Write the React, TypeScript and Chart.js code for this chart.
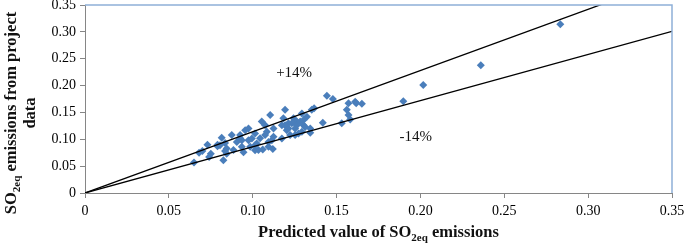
import React, { useEffect, useRef } from "react";
import { Chart, registerables } from "chart.js";

Chart.register(...registerables);

// Predicted value of SO2eq emissions (x)
const predicted: number[] = [
  0.065, 0.068, 0.07, 0.073, 0.075, 0.074, 0.079, 0.0805, 0.0815, 0.079,
  0.0835, 0.0825, 0.0845, 0.0875, 0.0885, 0.0905, 0.0925, 0.0935, 0.0945, 0.0925,
  0.0955, 0.0975, 0.0985, 0.1014, 0.1024, 0.1034, 0.1044, 0.1054, 0.1074, 0.1084,
  0.1094, 0.1104, 0.1114, 0.1124, 0.1174, 0.1183, 0.1193, 0.1203, 0.1213, 0.1223,
  0.1243, 0.1253, 0.1263, 0.1273, 0.1293, 0.1303, 0.1323, 0.1343, 0.1352, 0.1442,
  0.1478, 0.1571, 0.1611, 0.1651, 0.1561, 0.1571, 0.1581, 0.1531, 0.1418, 0.1366,
  0.1303, 0.1343, 0.1313, 0.1293, 0.1898, 0.2017, 0.236, 0.2834, 0.0845, 0.0835,
  0.0935, 0.0975, 0.0995, 0.1014, 0.1074, 0.1094, 0.1124, 0.1174, 0.1193, 0.1213,
  0.1233, 0.1263, 0.1283, 0.1253, 0.1014, 0.106, 0.112, 0.1617,
];

// SO2eq emissions from project data (y)
const observed: number[] = [
  0.057, 0.075, 0.078, 0.09, 0.073, 0.067, 0.087, 0.089, 0.103, 0.09,
  0.093, 0.061, 0.073, 0.108, 0.08, 0.095, 0.102, 0.086, 0.076, 0.108,
  0.117, 0.098, 0.086, 0.111, 0.092, 0.08, 0.102, 0.133, 0.126, 0.114,
  0.086, 0.145, 0.098, 0.12, 0.126, 0.139, 0.155, 0.117, 0.13, 0.108,
  0.139, 0.12, 0.133, 0.111, 0.148, 0.126, 0.142, 0.12, 0.155, 0.181,
  0.175, 0.167, 0.17, 0.166, 0.155, 0.145, 0.137, 0.13, 0.131, 0.158,
  0.136, 0.112, 0.123, 0.114, 0.171, 0.201, 0.238, 0.314, 0.083, 0.078,
  0.098, 0.12, 0.1015, 0.089, 0.108, 0.095, 0.1045, 0.1015, 0.126, 0.12,
  0.13, 0.126, 0.133, 0.108, 0.0796, 0.081, 0.082, 0.167,
];

// Reference lines (+14% / -14%)
const lineXs: number[] = [0, 0.35];
const upperFactor = 1.14;
const lowerFactor = 0.86;

// Annotation labels at data coordinates
const bandLabels: string[] = ["+14%", "-14%"];
const bandLabelX: number[] = [0.1247, 0.1972];
const bandLabelY: number[] = [0.2238, 0.1034];

const axisMin = 0;
const axisMax = 0.35;
const axisStep = 0.05;

const xTitle = { pre: "Predicted value of SO", sub: "2eq", post: " emissions" };
const yTitle1 = { pre: "SO", sub: "2eq", post: " emissions from project" };
const yTitle2 = "data";

const SERIF = "'Liberation Serif', 'Times New Roman', serif";

function drawSubText(
  ctx: CanvasRenderingContext2D,
  parts: { pre: string; sub: string; post: string },
  cx: number,
  cy: number,
  size: number
) {
  const mainFont = `bold ${size}px ${SERIF}`;
  const subFont = `bold ${Math.round(size * 0.68)}px ${SERIF}`;
  ctx.font = mainFont;
  const w1 = ctx.measureText(parts.pre).width;
  const w3 = ctx.measureText(parts.post).width;
  ctx.font = subFont;
  const w2 = ctx.measureText(parts.sub).width;
  const total = w1 + w2 + w3;
  let x = cx - total / 2;
  ctx.textAlign = "left";
  ctx.textBaseline = "middle";
  ctx.font = mainFont;
  ctx.fillText(parts.pre, x, cy);
  x += w1;
  ctx.font = subFont;
  ctx.fillText(parts.sub, x, cy + size * 0.3);
  x += w2;
  ctx.font = mainFont;
  ctx.fillText(parts.post, x, cy);
}

const decorPlugin = {
  id: "decor",
  afterDraw(chart: any) {
    const ctx: CanvasRenderingContext2D = chart.ctx;
    const { left, right, top, bottom } = chart.chartArea;
    const xs = chart.scales.x;
    const ys = chart.scales.y;
    ctx.save();
    // top and right plot-area border
    ctx.strokeStyle = "#8eb0d8";
    ctx.lineWidth = 1.5;
    ctx.beginPath();
    ctx.moveTo(left, top);
    ctx.lineTo(right, top);
    ctx.lineTo(right, bottom);
    ctx.stroke();

    // band labels
    ctx.fillStyle = "#111";
    ctx.font = `15px ${SERIF}`;
    ctx.textAlign = "center";
    ctx.textBaseline = "middle";
    bandLabels.forEach((t, i) => {
      ctx.fillText(t, xs.getPixelForValue(bandLabelX[i]), ys.getPixelForValue(bandLabelY[i]));
    });

    // x title
    ctx.fillStyle = "#111";
    drawSubText(ctx, xTitle, (left + right) / 2, 233, 16.5);

    // y title (rotated)
    ctx.save();
    ctx.translate(12, 113);
    ctx.rotate(-Math.PI / 2);
    drawSubText(ctx, yTitle1, 0, 0, 16.5);
    ctx.font = `bold 16.5px ${SERIF}`;
    ctx.textAlign = "center";
    ctx.fillText(yTitle2, 0, 19);
    ctx.restore();
    ctx.restore();
  },
};

export default function App() {
  const ref = useRef<HTMLCanvasElement>(null);
  useEffect(() => {
    if (!ref.current) return;
    const points = predicted.map((x, i) => ({ x, y: observed[i] }));
    const upper = lineXs.map((x) => ({ x, y: x * upperFactor }));
    const lower = lineXs.map((x) => ({ x, y: x * lowerFactor }));
    const tickFont = { family: SERIF, size: 14 };
    const chart = new Chart(ref.current, {
      type: "scatter",
      data: {
        datasets: [
          {
            type: "line",
            data: upper,
            borderColor: "#000",
            borderWidth: 1.3,
            pointRadius: 0,
            fill: false,
          },
          {
            type: "line",
            data: lower,
            borderColor: "#000",
            borderWidth: 1.3,
            pointRadius: 0,
            fill: false,
          },
          {
            data: points,
            pointStyle: "rectRot",
            pointRadius: 4,
            backgroundColor: "#4a7ebb",
            borderColor: "#4a7ebb",
            borderWidth: 0,
          },
        ] as any,
      },
      options: {
        animation: false,
        responsive: true,
        maintainAspectRatio: false,
        layout: { padding: { left: 0, top: 5, right: 13, bottom: 0 } },
        plugins: {
          legend: { display: false },
          tooltip: { enabled: false },
        },
        scales: {
          x: {
            type: "linear",
            min: axisMin,
            max: axisMax,
            ticks: { stepSize: axisStep, font: tickFont, color: "#000", padding: 5, maxRotation: 0 },
            grid: { drawOnChartArea: false, drawTicks: true, tickLength: 5, color: "#868686" },
            border: { color: "#868686", width: 1 },
            afterFit: (s: any) => {
              s.height = 52;
              s.paddingLeft = 0;
              s.paddingRight = 0;
            },
          },
          y: {
            type: "linear",
            min: axisMin,
            max: axisMax,
            ticks: { stepSize: axisStep, font: tickFont, color: "#000", padding: 4 },
            grid: { drawOnChartArea: false, drawTicks: true, tickLength: 5, color: "#868686" },
            border: { color: "#868686", width: 1 },
            afterFit: (s: any) => {
              s.width = 85;
              s.paddingTop = 0;
              s.paddingBottom = 0;
            },
          },
        },
      },
      plugins: [decorPlugin],
    });
    return () => chart.destroy();
  }, []);
  return (
    <div style={{ position: "fixed", left: 0, top: 0, width: 685, height: 245, background: "#fff" }}>
      <canvas ref={ref} />
    </div>
  );
}
